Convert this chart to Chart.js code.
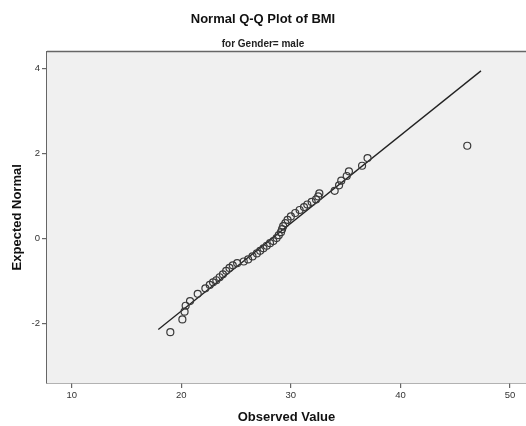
<!DOCTYPE html>
<html>
<head>
<meta charset="utf-8">
<script src="https://cdn.jsdelivr.net/npm/chart.js@4"></script>
<style>
  html, body { margin: 0; padding: 0; background: #fff; overflow: hidden; }
  #wrap { width: 526px; height: 426px; }
</style>
</head>
<body>
<div id="wrap"><canvas id="qq"></canvas></div>
<script>
// observed BMI values and their expected normal scores
var observed = [19.0, 20.1, 20.3, 20.4, 20.8, 21.5, 22.2, 22.6, 22.9, 23.2,
                23.5, 23.8, 24.1, 24.4, 24.7, 25.1, 25.7, 26.1, 26.5, 26.9,
                27.2, 27.5, 27.8, 28.1, 28.4, 28.7, 28.9, 29.1, 29.2, 29.3,
                29.5, 29.7, 30.0, 30.4, 30.8, 31.2, 31.5, 31.9, 32.3, 32.5,
                32.6, 34.0, 34.4, 34.6, 35.1, 35.3, 36.5, 37.0, 46.1];
var expected = [-2.20, -1.90, -1.72, -1.58, -1.47, -1.30, -1.17, -1.09, -1.03, -0.98,
                -0.91, -0.84, -0.76, -0.69, -0.63, -0.58, -0.54, -0.49, -0.42, -0.35,
                -0.29, -0.23, -0.17, -0.11, -0.06, 0.01, 0.08, 0.15, 0.22, 0.29,
                0.36, 0.44, 0.52, 0.60, 0.67, 0.74, 0.80, 0.86, 0.92, 0.99,
                1.06, 1.12, 1.25, 1.36, 1.47, 1.58, 1.71, 1.89, 2.18];

// reference line end points
var lineObserved = [17.9, 47.35];
var lineExpected = [-2.14, 3.94];

var xTicks = [10, 20, 30, 40, 50];
var yTicks = [-2, 0, 2, 4];

var points = observed.map(function (v, i) { return { x: v, y: expected[i] }; });
var linePts = lineObserved.map(function (v, i) { return { x: v, y: lineExpected[i] }; });

var FONT = "'Liberation Sans', Arial, sans-serif";

var plotFrame = {
    id: 'plotFrame',
    beforeDatasetsDraw: function (chart) {
        var a = chart.chartArea, c = chart.ctx;
        c.save();
        c.fillStyle = '#f0f0f0';
        c.fillRect(a.left, a.top, a.right - a.left, a.bottom - a.top);
        c.restore();
    },
    afterDraw: function (chart) {
        var a = chart.chartArea, c = chart.ctx;
        c.save();
        c.strokeStyle = '#666';
        c.lineWidth = 1.5;
        c.beginPath();
        c.moveTo(a.left, a.top);
        c.lineTo(a.right, a.top);
        c.stroke();
        c.restore();
    }
};

new Chart(document.getElementById('qq'), {
    type: 'scatter',
    data: {
        datasets: [
            {
                label: 'BMI',
                data: points,
                pointStyle: 'circle',
                pointRadius: 3.5,
                pointBorderWidth: 1.2,
                pointBackgroundColor: 'rgba(0,0,0,0)',
                pointBorderColor: '#3a3a3a',
                showLine: false
            },
            {
                label: 'line',
                data: linePts,
                showLine: true,
                pointRadius: 0,
                borderColor: '#222',
                borderWidth: 1.3
            }
        ]
    },
    plugins: [plotFrame],
    options: {
        responsive: true,
        maintainAspectRatio: false,
        animation: false,
        layout: { autoPadding: false, padding: { left: 0, right: 0, top: 0, bottom: 0 } },
        plugins: {
            legend: { display: false },
            tooltip: { enabled: false },
            title: {
                display: true,
                text: 'Normal Q-Q Plot of BMI',
                color: '#111',
                font: { family: FONT, size: 13, weight: 'bold' },
                padding: { top: 12, bottom: 0 }
            },
            subtitle: {
                display: true,
                text: 'for Gender= male',
                color: '#222',
                font: { family: FONT, size: 10, weight: 'bold' },
                padding: { top: 11, bottom: 1 }
            }
        },
        scales: {
            x: {
                type: 'linear',
                min: 7.746,
                max: 51.46,
                afterBuildTicks: function (s) { s.ticks = xTicks.map(function (v) { return { value: v }; }); },
                afterFit: function (s) { s.height = 43; },
                ticks: {
                    color: '#333',
                    font: { family: FONT, size: 9.5 },
                    padding: 2
                },
                grid: { drawOnChartArea: false, drawTicks: true, tickLength: 5, color: '#666', lineWidth: 1.2 },
                border: { display: true, color: '#666', width: 1.5 },
                title: {
                    display: true,
                    text: 'Observed Value',
                    color: '#111',
                    font: { family: FONT, size: 13, weight: 'bold' },
                    padding: { top: 0, bottom: 1 }
                }
            },
            y: {
                type: 'linear',
                min: -3.395,
                max: 4.393,
                afterBuildTicks: function (s) { s.ticks = yTicks.map(function (v) { return { value: v }; }); },
                afterFit: function (s) { s.width = 47; },
                ticks: {
                    color: '#333',
                    font: { family: FONT, size: 9.5 },
                    padding: 2
                },
                grid: { drawOnChartArea: false, drawTicks: true, tickLength: 5, color: '#666', lineWidth: 1.2 },
                border: { display: true, color: '#666', width: 1.5 },
                title: {
                    display: true,
                    text: 'Expected Normal',
                    color: '#111',
                    font: { family: FONT, size: 13, weight: 'bold' },
                    padding: { top: 9.5, bottom: 0 }
                }
            }
        }
    }
});
</script>
</body>
</html>
